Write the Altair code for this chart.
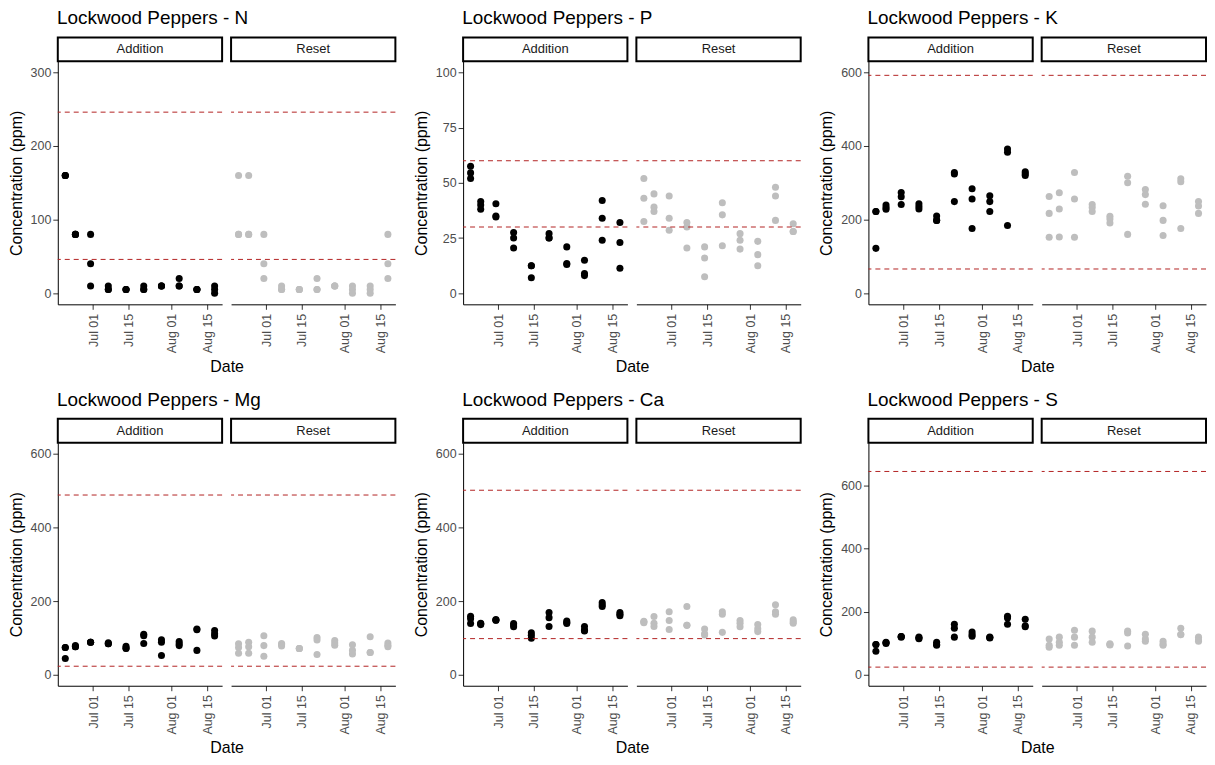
import altair as alt
import pandas as pd

# ---------------- data ----------------
DATES = ["2021-06-20", "2021-06-24", "2021-06-30", "2021-07-07", "2021-07-14",
         "2021-07-21", "2021-07-28", "2021-08-04", "2021-08-11", "2021-08-18"]

N_ADDITION = [[160, 160, 160], [80, 80, 80], [80, 40, 10], [10, 5, 5], [5, 5, 5],
              [10, 5, 5], [10, 10, 10], [20, 10, 10], [5, 5, 5], [10, 5, 0]]
N_RESET = [[160, 80, 80], [160, 80, 80], [80, 40, 20], [10, 5, 5], [5, 5, 5],
           [20, 5, 5], [10, 10, 10], [10, 5, 0], [10, 5, 0], [80, 40, 20]]

P_ADDITION = [[57.5, 54.5, 52], [41.5, 40, 38], [40.5, 35, 34.5], [27.5, 25, 20.5], [12.5, 12.5, 7],
              [27, 25, 25], [21, 13.5, 13], [15, 9, 8], [42, 34, 24], [32, 23, 11.3]]
P_RESET = [[52, 43, 32.5], [45, 39, 37], [44, 34, 28.5], [32, 30, 20.5], [21, 16, 7.5],
           [41, 35.5, 21.5], [27, 24, 20], [23.5, 17.5, 12.5], [48, 44, 33], [31.5, 28, 28]]

K_ADDITION = [[222, 222, 122], [240, 233, 228], [274, 262, 241], [243, 236, 229], [210, 198, 198],
              [328, 324, 249], [284, 256, 176], [265, 249, 222], [392, 383, 184], [330, 325, 320]]
K_RESET = [[263, 217, 152], [273, 229, 153], [328, 256, 152], [241, 233, 222], [209, 202, 191],
           [318, 300, 160], [282, 268, 242], [238, 198, 157], [311, 303, 176], [249, 237, 217]]

MG_ADDITION = [[74, 74, 44], [79, 76, 76], [88, 88, 88], [87, 84, 84], [77, 72, 71],
               [110, 106, 85], [95, 88, 52], [90, 84, 79], [124, 122, 66], [120, 111, 105]]
MG_RESET = [[84, 74, 58], [88, 76, 58], [106, 79, 50], [85, 82, 78], [71, 71, 71],
            [101, 94, 55], [93, 86, 80], [81, 66, 56], [103, 60, 60], [86, 80, 76]]

CA_ADDITION = [[159, 152, 139], [138, 136, 140], [150, 148, 148], [139, 135, 130], [114, 107, 99],
               [169, 155, 131], [146, 142, 139], [131, 121, 119], [196, 190, 185], [169, 164, 160]]
CA_RESET = [[145, 143, 141], [158, 140, 131], [171, 147, 123], [185, 134, 134], [124, 111, 108],
            [171, 164, 115], [147, 140, 130], [136, 125, 117], [190, 171, 164], [149, 144, 140]]

S_ADDITION = [[96, 96, 74], [101, 99, 103], [121, 119, 121], [119, 114, 116], [103, 96, 93],
              [160, 147, 119], [135, 127, 122], [119, 116, 118], [185, 180, 160], [176, 155, 152]]
S_RESET = [[113, 93, 87], [119, 103, 93], [141, 119, 93], [138, 119, 103], [96, 98, 94],
           [138, 132, 91], [128, 113, 106], [106, 97, 93], [147, 127, 127], [119, 110, 106]]

ELEMENTS = ["N", "P", "K", "Mg", "Ca", "S"]
ADDITION = [N_ADDITION, P_ADDITION, K_ADDITION, MG_ADDITION, CA_ADDITION, S_ADDITION]
RESET = [N_RESET, P_RESET, K_RESET, MG_RESET, CA_RESET, S_RESET]
LIMITS = [[46, 246], [30, 60], [66, 592], [23, 488], [98, 501], [24, 644]]
Y_MAX = [300, 100, 600, 600, 600, 700]
Y_STEP = [100, 25, 200, 200, 200, 200]
TREATMENTS = ["Addition", "Reset"]
TICK_LABEL_DATES = [(7, 1), (7, 15), (8, 1), (8, 15)]

# ---------------- styling ----------------
FONT = "Liberation Sans"
W, H = 165, 244
POINT_COLORS = {"Addition": "black", "Reset": "#BEBEBE"}
LINE_COLOR = "#B22222"

X_DOMAIN = [alt.DateTime(year=2021, month=6, date=17, hours=1, utc=True),
            alt.DateTime(year=2021, month=8, date=20, hours=23, utc=True)]
X_TICKS = [alt.DateTime(year=2021, month=m, date=d, utc=True) for m, d in TICK_LABEL_DATES]


def panel(treat, vals, limits, ymax, ystep):
    pad = 0.05 * ymax
    yscale = alt.Scale(domain=[-pad, ymax + pad], nice=False, zero=False)
    ticks = list(range(0, ymax + 1, ystep))
    if treat == "Addition":
        yaxis = alt.Axis(values=ticks, title="Concentration (ppm)", titlePadding=6,
                         tickSize=5, labelPadding=2)
    else:
        yaxis = None
    xenc = alt.X("Date:T",
                 scale=alt.Scale(type="utc", domain=X_DOMAIN, nice=False),
                 axis=alt.Axis(values=X_TICKS, format="%b %d", labelAngle=-90, title=None,
                               labelFlush=False, tickSize=5, labelPadding=4,
                               labelOverlap=False))
    rows = [{"Date": d, "Concentration": v} for d, vs in zip(DATES, vals) for v in vs]
    df = pd.DataFrame(rows)
    pts = alt.Chart(df).mark_circle(size=50, opacity=1, color=POINT_COLORS[treat]).encode(
        x=xenc, y=alt.Y("Concentration:Q", scale=yscale, axis=yaxis))
    rules = alt.Chart(pd.DataFrame({"Concentration": limits})).mark_rule(
        color=LINE_COLOR, strokeDash=[5, 4], strokeWidth=1).encode(
        y=alt.Y("Concentration:Q", scale=yscale, axis=yaxis))
    lab = pd.DataFrame({"label": [treat]})
    strip = alt.Chart(lab).mark_rect(fill="white", stroke="black", strokeWidth=2).encode(
        x=alt.value(0), x2=alt.value(W), y=alt.value(-24), y2=alt.value(0))
    text = alt.Chart(lab).mark_text(fontSize=13, color="#1A1A1A", font=FONT).encode(
        x=alt.value(W / 2), y=alt.value(-12), text="label:N")
    return alt.layer(pts, rules, strip, text).properties(width=W, height=H)


def element(i):
    parts = [panel(t, v, LIMITS[i], Y_MAX[i], Y_STEP[i])
             for t, v in zip(TREATMENTS, [ADDITION[i], RESET[i]])]
    inner = alt.hconcat(*parts, spacing=7).properties(
        title=alt.TitleParams("Date", orient="bottom", anchor="middle", fontSize=16,
                              fontWeight="normal", color="black", font=FONT, dx=25, offset=6))
    return alt.vconcat(inner).properties(
        title=alt.TitleParams(f"Lockwood Peppers - {ELEMENTS[i]}", anchor="start", fontSize=19,
                              fontWeight="normal", color="black", font=FONT, dx=49, offset=8))


row1 = alt.hconcat(*[element(i) for i in range(3)], spacing=17)
row2 = alt.hconcat(*[element(i) for i in range(3, 6)], spacing=17)

chart = alt.vconcat(row1, row2, spacing=16).properties(padding=0).configure_view(
    stroke=None
).configure_axis(
    grid=False, domainColor="black", domainWidth=1, tickColor="#333333",
    labelColor="#4D4D4D", labelFont=FONT, labelFontSize=12.5,
    titleFont=FONT, titleFontSize=16, titleFontWeight="normal", titleColor="black"
).configure_title(font=FONT)

chart.save("out.html", embed_options={"renderer": "svg", "actions": False})
